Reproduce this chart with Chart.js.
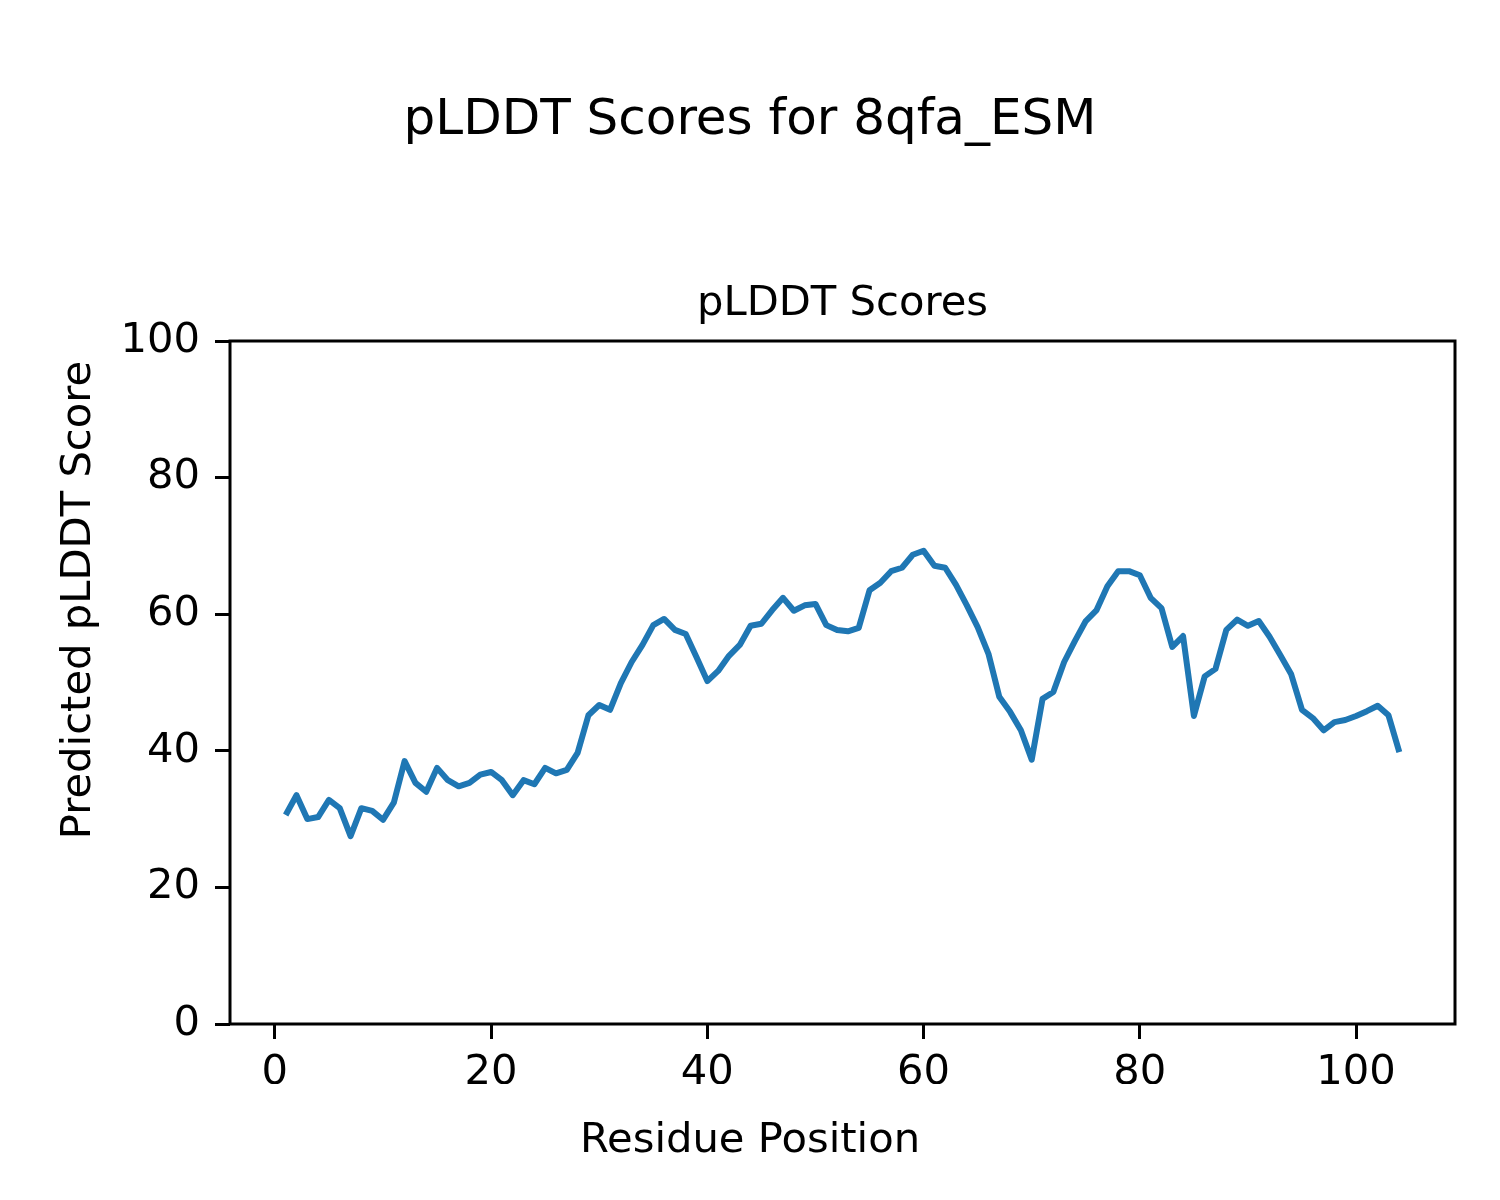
<!DOCTYPE html>
<html>
<head>
<meta charset="utf-8">
<title>pLDDT Scores for 8qfa_ESM</title>
<script src="https://cdn.jsdelivr.net/npm/chart.js@4.4.1/dist/chart.umd.min.js"></script>
<style>
    body { margin: 0; background: #ffffff; }
</style>
</head>
<body>
<canvas id="plddt-chart" width="1500" height="1200"></canvas>
<script>
const residues = [
    1, 2, 3, 4, 5, 6, 7, 8, 9, 10, 11, 12, 13, 14, 15, 16, 17, 18, 19, 20,
    21, 22, 23, 24, 25, 26, 27, 28, 29, 30, 31, 32, 33, 34, 35, 36, 37, 38, 39, 40,
    41, 42, 43, 44, 45, 46, 47, 48, 49, 50, 51, 52, 53, 54, 55, 56, 57, 58, 59, 60,
    61, 62, 63, 64, 65, 66, 67, 68, 69, 70, 71, 72, 73, 74, 75, 76, 77, 78, 79, 80,
    81, 82, 83, 84, 85, 86, 87, 88, 89, 90, 91, 92, 93, 94, 95, 96, 97, 98, 99, 100,
    101, 102, 103, 104,
];
const scores = [
    30.6, 33.5, 30.0, 30.3, 32.8, 31.6, 27.5, 31.6, 31.2, 29.9,
    32.4, 38.5, 35.3, 34.0, 37.5, 35.7, 34.8, 35.3, 36.5, 36.9,
    35.7, 33.5, 35.7, 35.1, 37.5, 36.7, 37.2, 39.7, 45.2, 46.7,
    46.0, 49.9, 53.0, 55.5, 58.4, 59.3, 57.7, 57.1, 53.7, 50.2,
    51.7, 53.9, 55.5, 58.3, 58.6, 60.6, 62.4, 60.5, 61.3, 61.5,
    58.4, 57.7, 57.5, 58.0, 63.5, 64.6, 66.3, 66.8, 68.7, 69.3,
    67.1, 66.8, 64.3, 61.3, 58.1, 54.2, 47.9, 45.7, 43.0, 38.7,
    47.6, 48.6, 53.0, 56.1, 59.0, 60.6, 64.1, 66.3, 66.3, 65.7,
    62.4, 60.9, 55.2, 56.8, 45.1, 50.9, 52.0, 57.7, 59.2, 58.3,
    59.0, 56.7, 54.0, 51.2, 46.0, 44.8, 43.0, 44.2, 44.5, 45.1,
    45.8, 46.6, 45.2, 39.8,
];
const xTicks = [0, 20, 40, 60, 80, 100];
const yTicks = [0, 20, 40, 60, 80, 100];

const figureTitle = "pLDDT Scores for 8qfa_ESM";
const axesTitle = "pLDDT Scores";
const xLabel = "Residue Position";
const yLabel = "Predicted pLDDT Score";

Chart.defaults.font.family = "'DejaVu Sans'";
Chart.defaults.color = "#000000";

// figure texts and the four spines, placed like the matplotlib figure
const figureText = {
    id: "figureText",
    afterDraw(chart) {
        const ctx = chart.ctx;
        const area = chart.chartArea;
        ctx.save();
        ctx.strokeStyle = "#000000";
        ctx.lineWidth = 3;
        ctx.strokeRect(area.left, area.top, area.right - area.left, area.bottom - area.top);

        ctx.fillStyle = "#000000";
        ctx.textAlign = "center";
        ctx.textBaseline = "alphabetic";
        ctx.font = "50px 'DejaVu Sans'";
        ctx.fillText(figureTitle, 750, 134);
        ctx.font = "41.7px 'DejaVu Sans'";
        ctx.fillText(axesTitle, (area.left + area.right) / 2, 315);
        ctx.fillText(xLabel, 750, 1152);
        ctx.translate(90, 600);
        ctx.rotate(-Math.PI / 2);
        ctx.fillText(yLabel, 0, 0);
        ctx.restore();
    },
};

const plddtCtx = document.getElementById("plddt-chart");

let plddtChart = new Chart(plddtCtx, {
    type: "line",
    data: {
        labels: residues,
        datasets: [
            {
                label: axesTitle,
                data: residues.map((r, i) => ({ x: r, y: scores[i] })),
                borderColor: "#1f77b4",
                borderWidth: 6,
                borderJoinStyle: "round",
                pointRadius: 0,
                tension: 0,
                fill: false,
            },
        ],
    },
    options: {
        responsive: false,
        animation: false,
        layout: {
            padding: { left: 0, top: 341, right: 45, bottom: 116 },
        },
        plugins: {
            legend: { display: false },
            tooltip: { enabled: false },
        },
        scales: {
            x: {
                type: "linear",
                min: -4.15,
                max: 109.15,
                border: { display: false },
                grid: {
                    drawOnChartArea: false,
                    drawTicks: true,
                    tickLength: 15,
                    tickWidth: 3,
                    tickColor: "#000000",
                },
                ticks: {
                    padding: 9,
                    font: { size: 41.7 },
                    maxRotation: 0,
                },
                afterBuildTicks: (scale) => {
                    scale.ticks = xTicks.map((v) => ({ value: v }));
                },
                afterFit: (scale) => {
                    scale.height = 60;
                },
            },
            y: {
                type: "linear",
                min: 0,
                max: 100,
                border: { display: false },
                grid: {
                    drawOnChartArea: false,
                    drawTicks: true,
                    tickLength: 15,
                    tickWidth: 3,
                    tickColor: "#000000",
                },
                ticks: {
                    padding: 15,
                    font: { size: 41.7 },
                },
                afterBuildTicks: (scale) => {
                    scale.ticks = yTicks.map((v) => ({ value: v }));
                },
                afterFit: (scale) => {
                    scale.width = 230;
                },
            },
        },
    },
    plugins: [figureText],
});
</script>
</body>
</html>
